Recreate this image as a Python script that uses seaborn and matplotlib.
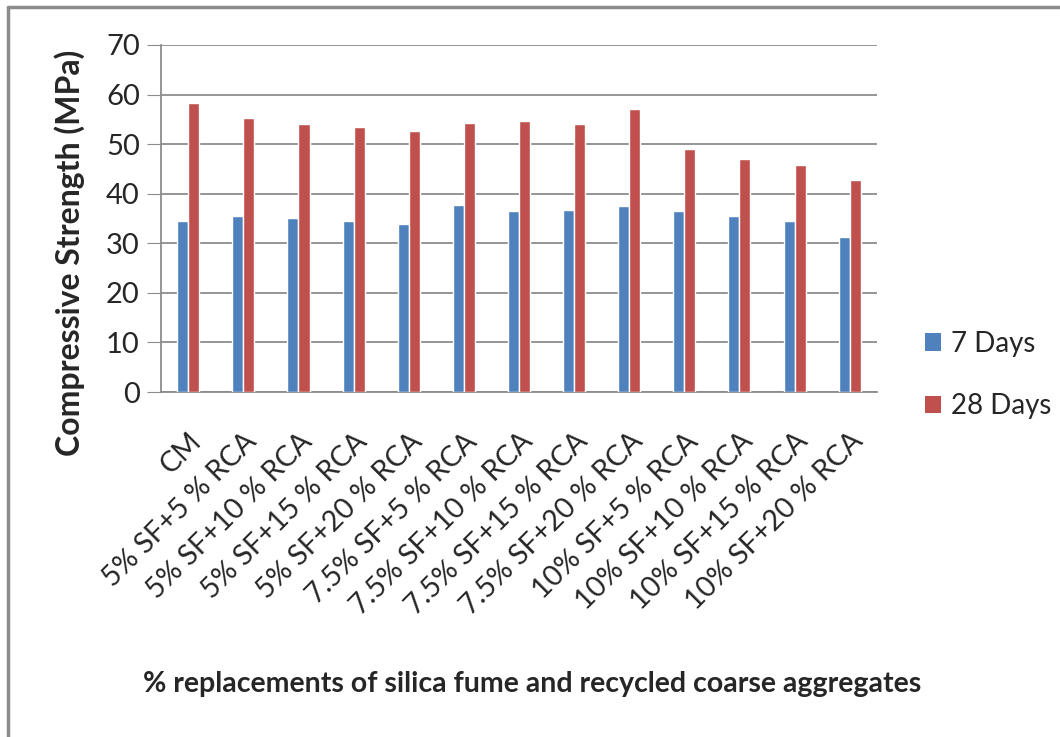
import pandas as pd
import matplotlib
matplotlib.use('Agg')
import matplotlib.pyplot as plt
from matplotlib.lines import Line2D
from matplotlib.patches import Patch
import seaborn as sns

categories = ['CM', '5% SF+5 % RCA', '5% SF+10 % RCA', '5% SF+15 % RCA', '5% SF+20 % RCA',
              '7.5% SF+5 % RCA', '7.5% SF+10 % RCA', '7.5% SF+15 % RCA', '7.5% SF+20 % RCA',
              '10% SF+5 % RCA', '10% SF+10 % RCA', '10% SF+15 % RCA', '10% SF+20 % RCA']
days_7 = [34.5, 35.5, 35.1, 34.5, 33.8, 37.8, 36.5, 36.8, 37.5, 36.5, 35.5, 34.5, 31.2]
days_28 = [58.2, 55.3, 54.0, 53.4, 52.7, 54.3, 54.6, 54.0, 57.0, 49.1, 47.1, 45.7, 42.7]
series = ['7 Days', '28 Days']
colors = ['#4F81BD', '#C0504D']

df = pd.DataFrame({
    'mix': categories * 2,
    'strength': days_7 + days_28,
    'age': [series[0]] * len(categories) + [series[1]] * len(categories),
})

sns.set_style('white')
plt.rcParams['font.family'] = ['Lato', 'DejaVu Sans']

fig = plt.figure(figsize=(10.6, 7.37), dpi=100)
ax = fig.add_axes([0.1516, 0.468, 0.676, 0.471])

sns.barplot(data=df, x='mix', y='strength', hue='age', palette=colors,
            width=0.4, saturation=1, ax=ax, legend=False, zorder=3)

ax.set_ylim(0, 70)
ax.set_yticks(range(0, 71, 10))
ax.set_xlim(-0.5, len(categories) - 0.5)
ax.yaxis.grid(True, color='#8c8c8c', linewidth=1.3, zorder=0)
ax.set_axisbelow(True)
for side in ['top', 'right']:
    ax.spines[side].set_visible(False)
for side in ['left', 'bottom']:
    ax.spines[side].set_color('#8c8c8c')
    ax.spines[side].set_linewidth(1.3)
ax.tick_params(axis='y', length=10, color='#8c8c8c', labelsize=21, pad=5,
               direction='out', left=True)
ax.tick_params(axis='x', length=0, labelsize=20.5, pad=26)
ax.set_xticks(range(len(categories)))
ax.set_xticklabels(categories, rotation=45, ha='right', rotation_mode='anchor')

ax.set_ylabel('Compressive Strength (MPa)', fontsize=23, fontweight='bold')
ax.yaxis.set_label_coords(-0.105, 0.40)
ax.set_xlabel('')
fig.text(0.502, 0.072, '% replacements of silica fume and recycled coarse aggregates',
         ha='center', va='center', fontsize=20.5, fontweight='bold')

handles = [Patch(facecolor=c, edgecolor='none') for c in colors]
fig.legend(handles, series, loc='center left', bbox_to_anchor=(0.862, 0.491),
           borderaxespad=0, frameon=False, fontsize=20, handlelength=0.6,
           handleheight=0.6, handletextpad=0.35, labelspacing=1.3)

# outer frame of the figure
fig.add_artist(Line2D([0.0078, 0.0078], [0, 0.991], color='#8c8c8c', linewidth=2.5,
                      transform=fig.transFigure))
fig.add_artist(Line2D([0.0078, 1.0], [0.991, 0.991], color='#8c8c8c', linewidth=2.5,
                      transform=fig.transFigure))

fig.savefig('out.png', dpi=100, facecolor='white')
